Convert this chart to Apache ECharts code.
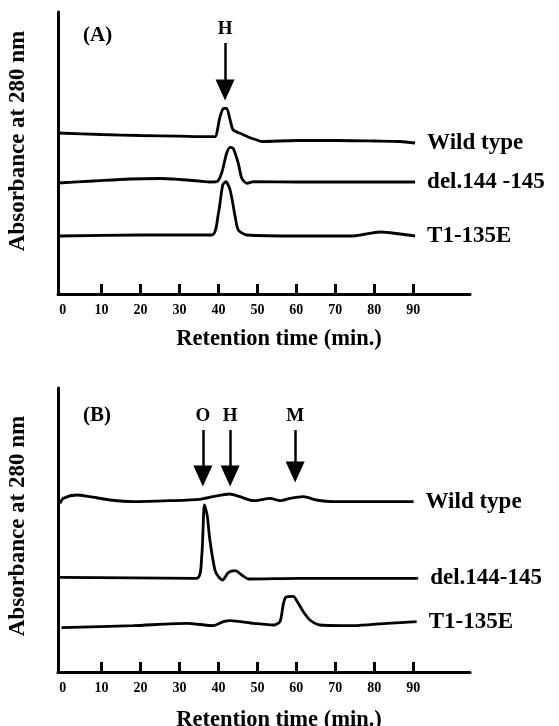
<!DOCTYPE html>
<html>
<head>
<meta charset="utf-8">
<script src="https://cdn.jsdelivr.net/npm/echarts@6/dist/echarts.min.js"></script>
<style>
  html, body { margin: 0; padding: 0; background: #fff; }
  #chart { width: 559px; height: 726px; }
</style>
</head>
<body>
<div id="chart"></div>
<script>
// 数据：保留时间 (min) 与 280 nm 吸光度（任意单位，各曲线已按图中位置错开）
const xTickLabels = [0, 10, 20, 30, 40, 50, 60, 70, 80, 90]
const xTickMarks = [10, 20, 30, 40, 50, 60, 70, 80, 90]

// (A)
const aWildType = [
  [-1.2, 161], [10, 159.5], [20, 158.5], [30, 157.8], [37.8, 157.3], [39.1, 157.3],
  [40.4, 177], [41.3, 185.7], [42.1, 185.7], [43, 174], [43.8, 164], [46, 160],
  [48, 156.5], [49.9, 154], [51, 152.5], [60, 153.5], [70, 153.5], [80, 153], [86.6, 152.5], [90.5, 151]
]
const aDel = [
  [-1.2, 111], [8, 113], [17.3, 115], [25, 115.5], [30.1, 114.5], [35, 113], [37.8, 112], [39.6, 112.3],
  [40.8, 120.7], [42.1, 140.7], [43, 146.7], [43.8, 145.7], [45.1, 130.7], [46, 115.7],
  [47.3, 110.7], [49, 112.3], [60, 112], [75, 112], [90.5, 112]
]
const aT1 = [
  [-0.7, 58], [20, 59], [38.3, 59], [40, 80.7], [41.1, 109], [41.9, 112.3], [43, 104],
  [44.3, 77.3], [45.1, 64], [47.3, 59], [61, 58], [74.6, 58], [81.5, 62], [86.6, 60], [90.5, 58]
]
// 箭头：from = 箭尾, head = 三角形箭头中心
const aArrows = [{ name: 'H', t: 41.7, from: 251, head: 204 }]

// (B)
const bWildType = [
  [-0.7, 168.7], [0.2, 173.7], [3.6, 177], [7, 175.3], [12.2, 172], [18.1, 170.3],
  [27.6, 171.3], [35.3, 172.7], [38.6, 175.3], [42.9, 178], [45.5, 175.3], [49, 171.3],
  [53.3, 173.7], [55.8, 171.3], [58.4, 173.7], [61.8, 175.3], [65.2, 172], [69.5, 170.3], [90.1, 170.3]
]
const bDel = [
  [-0.7, 94.7], [34.4, 93.7], [35.7, 115.3], [36.4, 167], [37.1, 157], [37.8, 132],
  [39.1, 102], [40, 95.3], [41.1, 92], [42.5, 99.3], [44.3, 101.3], [46, 97],
  [47.7, 93], [61, 93.7], [91.3, 93.7]
]
const bT1 = [
  [-0.3, 44.3], [18.1, 46.3], [31.9, 48.7], [38.7, 46.3], [41.3, 50.3], [43, 51.3],
  [49, 48.7], [54.1, 47], [55.8, 50.3], [56.7, 68.7], [57.4, 75], [59.2, 75.7],
  [60.5, 68.7], [61.8, 60.3], [63.5, 52], [66.1, 47], [74.7, 46.3], [83.2, 48.7], [90.9, 50.3]
]
const bArrows = [
  { name: 'O', t: 36.0, from: 242, head: 196 },
  { name: 'H', t: 43.0, from: 242, head: 196 },
  { name: 'M', t: 59.7, from: 242, head: 200 }
]

const FONT = 'Liberation Serif'
const INK = '#000'

function xAxisFor(gridIndex, nameGap) {
  return {
    type: 'value', gridIndex, min: -1.2, max: 104.6,
    name: 'Retention time (min.)', nameLocation: 'middle', nameGap,
    nameTextStyle: { fontFamily: FONT, fontWeight: 'bold', fontSize: 22.5, color: INK, padding: [0, 0, 0, 30] },
    axisLine: { onZero: false, lineStyle: { color: INK, width: 3 } },
    axisTick: { inside: true, length: 10, customValues: xTickMarks, lineStyle: { color: INK, width: 3 } },
    axisLabel: { customValues: xTickLabels, fontFamily: FONT, fontWeight: 'bold', fontSize: 14, color: INK, margin: 9 },
    splitLine: { show: false }
  }
}

function yAxisFor(gridIndex, max, shift) {
  return {
    type: 'value', gridIndex, min: 0, max,
    name: 'Absorbance at 280 nm', nameLocation: 'middle', nameGap: 28,
    nameTextStyle: { fontFamily: FONT, fontWeight: 'bold', fontSize: 23, color: INK, padding: [0, 0, 0, shift] },
    axisLine: { show: true, onZero: false, lineStyle: { color: INK, width: 3 } },
    axisTick: { show: false }, axisLabel: { show: false }, splitLine: { show: false }
  }
}

function trace(name, data, idx) {
  return {
    type: 'line', name, data, xAxisIndex: idx, yAxisIndex: idx,
    smooth: 0.25, showSymbol: false, silent: true,
    lineStyle: { color: INK, width: 2.8 },
    endLabel: {
      show: true, formatter: name, distance: 12,
      fontFamily: FONT, fontWeight: 'bold', fontSize: 23, color: INK
    }
  }
}

function arrows(list, idx) {
  return {
    type: 'line', data: [], xAxisIndex: idx, yAxisIndex: idx, silent: true,
    markLine: {
      silent: true, animation: false,
      symbol: ['none', 'triangle'], symbolSize: [19, 21],
      lineStyle: { color: INK, width: 2.5, type: 'solid' },
      label: {
        show: true, position: 'start', formatter: '{b}', distance: 4,
        fontFamily: FONT, fontWeight: 'bold', fontSize: 19, color: INK
      },
      data: list.map(a => [{ name: a.name, coord: [a.t, a.from] }, { coord: [a.t, a.head] }])
    }
  }
}

const chart = echarts.init(document.getElementById('chart'), null, { renderer: 'canvas' })
chart.setOption({
  animation: false,
  backgroundColor: '#fff',
  title: [
    { text: '(A)', left: 78, top: 20, textStyle: { fontFamily: FONT, fontWeight: 'bold', fontSize: 21, color: INK } },
    { text: '(B)', left: 78, top: 400, textStyle: { fontFamily: FONT, fontWeight: 'bold', fontSize: 21, color: INK } }
  ],
  grid: [
    { left: 58, top: 12, width: 412, height: 282, outerBoundsMode: 'none' },
    { left: 58, top: 388, width: 412, height: 284, outerBoundsMode: 'none' }
  ],
  xAxis: [xAxisFor(0, 34), xAxisFor(1, 37)],
  yAxis: [yAxisFor(0, 282, 24), yAxisFor(1, 284, 8)],
  series: [
    trace('Wild type', aWildType, 0),
    trace('del.144 -145', aDel, 0),
    trace('T1-135E', aT1, 0),
    arrows(aArrows, 0),
    trace('Wild type', bWildType, 1),
    trace('del.144-145', bDel, 1),
    trace('T1-135E', bT1, 1),
    arrows(bArrows, 1)
  ]
})
</script>
</body>
</html>
